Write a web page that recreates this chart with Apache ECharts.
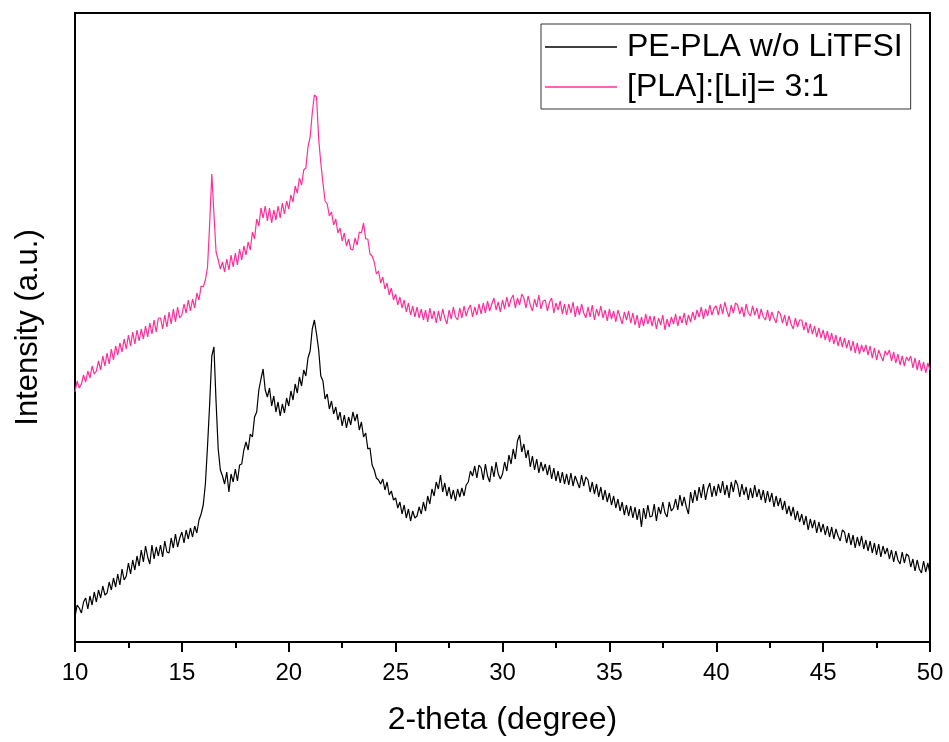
<!DOCTYPE html>
<html>
<head>
<meta charset="utf-8">
<script src="https://cdn.jsdelivr.net/npm/echarts@6/dist/echarts.min.js"></script>
<style>
  html, body { margin: 0; padding: 0; background: #fff; }
  #chart { width: 949px; height: 742px; }
</style>
</head>
<body>
<div id="chart"></div>
<script>
// XRD scan: 2-theta from 10 to 50 degrees, one reading every 0.1 degree
const thetaStart = 10;
const thetaStep = 0.1;
const xTicks = [10, 15, 20, 25, 30, 35, 40, 45, 50];

const seriesNames = ['PE-PLA w/o LiTFSI', '[PLA]:[Li]= 3:1'];

// Intensity (a.u.), PE-PLA without LiTFSI, one row per degree
const pePlaNoSalt = [
  25, 37, 34, 29, 40, 44, 33, 46, 37, 50,
  40, 52, 44, 56, 47, 49, 60, 52, 64, 55,
  68, 57, 73, 62, 66, 79, 68, 82, 72, 86,
  76, 92, 80, 96, 85, 78, 97, 83, 95, 86,
  97, 85, 101, 90, 89, 104, 94, 108, 95, 104,
  110, 99, 112, 103, 114, 105, 116, 109, 122, 128,
  137, 158, 196, 238, 286, 295, 240, 193, 172, 166,
  158, 170, 150, 168, 160, 173, 161, 177, 178, 192,
  200, 192, 208, 205, 225, 230, 252, 263, 273, 252,
  245, 254, 236, 246, 230, 240, 226, 238, 229, 244,
  236, 251, 242, 258, 249, 265, 256, 272, 266, 284,
  291, 313, 322, 308, 292, 266, 261, 243, 248, 233,
  241, 228, 235, 222, 230, 216, 227, 214, 225, 217,
  230, 221, 228, 212, 220, 205, 209, 193, 194, 177,
  172, 164, 162, 158, 163, 152, 160, 147, 151, 142,
  144, 134, 140, 128, 137, 124, 133, 121, 131, 124,
  126, 135, 128, 140, 131, 146, 138, 153, 146, 160,
  153, 167, 150, 159, 146, 155, 143, 152, 141, 153,
  145, 154, 146, 157, 160, 171, 166, 176, 164, 177,
  174, 162, 178, 166, 160, 176, 165, 180, 168, 163,
  168, 180, 171, 187, 178, 193, 183, 201, 207, 190,
  198, 184, 192, 175, 186, 172, 183, 169, 180, 171,
  178, 167, 177, 163, 174, 161, 171, 159, 170, 158,
  168, 157, 169, 156, 166, 160, 154, 167, 156, 165,
  162, 150, 160, 148, 158, 145, 155, 142, 152, 140,
  149, 137, 146, 134, 143, 131, 140, 127, 137, 126,
  136, 124, 135, 122, 133, 115, 134, 123, 137, 125,
  126, 138, 121, 135, 128, 140, 129, 125, 140, 131,
  134, 143, 132, 147, 136, 145, 135, 128, 150, 139,
  152, 141, 155, 144, 158, 142, 153, 159, 145, 156,
  146, 158, 149, 161, 147, 157, 144, 160, 150, 162,
  157, 145, 158, 147, 155, 142, 154, 144, 157, 145,
  153, 142, 152, 139, 151, 140, 149, 135, 146, 136,
  144, 132, 141, 128, 136, 126, 135, 122, 131, 120,
  128, 117, 126, 112, 123, 114, 122, 109, 120, 110,
  118, 107, 116, 105, 115, 103, 113, 106, 101, 112,
  110, 99, 109, 97, 107, 94, 105, 96, 106, 93,
  102, 91, 101, 89, 99, 87, 98, 85, 96, 88,
  94, 83, 92, 80, 91, 82, 78, 90, 79, 88,
  86, 75, 83, 71, 82, 73, 69, 81, 70, 79,
  68
];

// Intensity (a.u.), PE-PLA with LiTFSI at [PLA]:[Li] = 3:1, one row per degree
const pePlaLi31 = [
  250, 261, 254, 258, 267, 260, 271, 264, 276, 268,
  271, 281, 272, 286, 276, 289, 278, 293, 282, 296,
  287, 299, 290, 303, 293, 307, 296, 310, 298, 312,
  301, 313, 303, 316, 305, 319, 308, 322, 310, 324,
  324, 313, 327, 315, 330, 318, 333, 320, 335, 324,
  327, 338, 329, 342, 331, 343, 334, 349, 342, 356,
  355, 362, 375, 418, 468, 428, 390, 382, 373, 380,
  370, 383, 372, 387, 375, 389, 377, 393, 382, 396,
  387, 400, 392, 410, 403, 423, 416, 434, 424, 436,
  421, 434, 419, 432, 422, 436, 424, 439, 428, 441,
  433, 447, 440, 456, 449, 464, 457, 472, 474, 495,
  505, 529, 547, 545, 503, 479, 459, 441, 438, 426,
  430, 417, 423, 409, 414, 401, 409, 396, 403, 393,
  392, 404, 397, 410, 409, 419, 403, 403, 388, 386,
  380, 368, 371, 359, 365, 353, 359, 347, 354, 342,
  348, 337, 345, 334, 342, 330, 339, 327, 336, 325,
  335, 324, 333, 322, 332, 320, 334, 323, 331, 319,
  331, 321, 333, 324, 318, 332, 323, 335, 325, 322,
  334, 324, 336, 326, 333, 337, 325, 335, 327, 338,
  328, 339, 329, 341, 331, 338, 344, 332, 340, 330,
  342, 333, 345, 335, 343, 347, 334, 344, 337, 348,
  344, 334, 346, 337, 331, 343, 335, 347, 333, 341,
  342, 331, 340, 344, 329, 339, 332, 341, 328, 338,
  327, 338, 329, 340, 325, 336, 327, 338, 329, 324,
  335, 325, 337, 322, 333, 326, 336, 324, 332, 321,
  333, 323, 331, 320, 332, 325, 318, 330, 322, 331,
  319, 329, 317, 327, 314, 325, 316, 328, 318, 326,
  316, 326, 313, 324, 317, 327, 312, 323, 315, 325,
  318, 328, 316, 326, 319, 329, 317, 327, 320, 330,
  322, 332, 325, 335, 323, 333, 326, 337, 327, 334,
  336, 327, 338, 328, 340, 331, 325, 337, 329, 339,
  337, 328, 335, 325, 338, 329, 326, 336, 327, 334,
  323, 333, 325, 322, 332, 321, 330, 324, 319, 331,
  328, 319, 327, 316, 326, 318, 313, 324, 315, 322,
  322, 312, 320, 309, 318, 308, 316, 305, 314, 304,
  312, 302, 311, 300, 309, 298, 307, 296, 305, 295,
  304, 294, 302, 291, 301, 289, 299, 288, 297, 290,
  297, 287, 296, 284, 294, 282, 292, 286, 281, 291,
  287, 292, 281, 290, 279, 288, 277, 286, 276, 285,
  281, 286, 274, 284, 272, 282, 271, 280, 269, 279,
  272
];

const lineColors = ['#000000', '#ff2f97'];

// pair each reading with its 2-theta position
function toPoints(values) {
  return values.map((v, i) => [+(thetaStart + i * thetaStep).toFixed(2), v]);
}

const FONT = '"Liberation Sans", Arial, sans-serif';
const chart = echarts.init(document.getElementById('chart'), null, { renderer: 'canvas' });

chart.setOption({
  animation: false,
  backgroundColor: '#ffffff',
  grid: {
    left: 75, right: 19, top: 13, bottom: 100,
    show: true, borderColor: '#000', borderWidth: 2,
    backgroundColor: 'transparent'
  },
  legend: {
    orient: 'vertical',
    left: 541, top: 24,
    padding: [6, 8, 5, 4],
    itemGap: 6,
    itemWidth: 72,
    itemHeight: 1.5,
    icon: 'rect',
    borderColor: '#333',
    borderWidth: 1,
    textStyle: {
      fontFamily: FONT, fontSize: 32, color: '#000',
      lineHeight: 34, padding: [0, 0, 0, 5]
    },
    data: seriesNames
  },
  xAxis: {
    type: 'value',
    min: xTicks[0], max: xTicks[xTicks.length - 1], interval: 5,
    name: '2-theta (degree)',
    nameLocation: 'middle',
    nameGap: 62,
    nameTextStyle: { fontFamily: FONT, fontSize: 32, color: '#000' },
    axisLine: { show: true, onZero: false, lineStyle: { color: '#000', width: 2 } },
    axisTick: { show: true, inside: false, length: 10, lineStyle: { color: '#000', width: 2 } },
    minorTick: { show: true, splitNumber: 2, length: 6, lineStyle: { color: '#000', width: 2 } },
    axisLabel: { fontFamily: FONT, fontSize: 24, color: '#000', margin: 19 },
    splitLine: { show: false }
  },
  yAxis: {
    type: 'value',
    min: 0, max: 629,
    name: 'Intensity (a.u.)',
    nameLocation: 'middle',
    nameGap: 31,
    nameTextStyle: { fontFamily: FONT, fontSize: 31, color: '#000' },
    axisLine: { show: true, lineStyle: { color: '#000', width: 2 } },
    axisTick: { show: false },
    axisLabel: { show: false },
    splitLine: { show: false }
  },
  series: [
    {
      name: seriesNames[0],
      type: 'line',
      data: toPoints(pePlaNoSalt),
      showSymbol: false, symbol: 'none',
      color: lineColors[0],
      lineStyle: { color: lineColors[0], width: 1.2 },
      z: 3
    },
    {
      name: seriesNames[1],
      type: 'line',
      data: toPoints(pePlaLi31),
      showSymbol: false, symbol: 'none',
      color: lineColors[1],
      lineStyle: { color: lineColors[1], width: 1.2 },
      z: 2
    }
  ]
});
</script>
</body>
</html>
